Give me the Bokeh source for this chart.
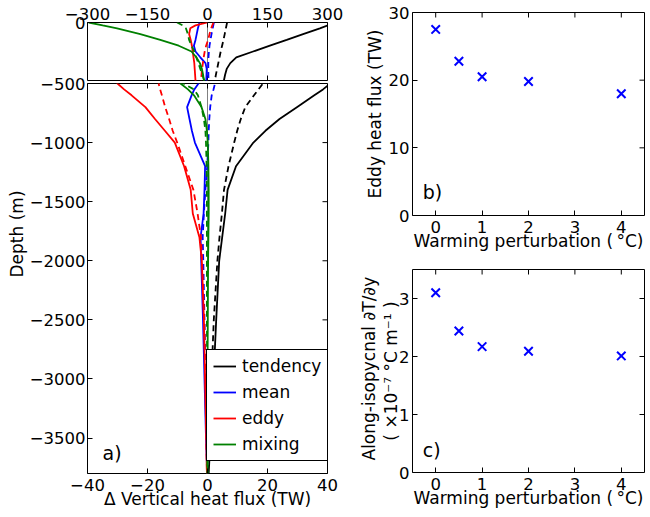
from math import pi
from bokeh.plotting import figure
from bokeh.models import (Range1d, FixedTicker, Span, Legend, LegendItem,
                          Label, Title, CustomJSTickFormatter)
from bokeh.layouts import row, column
from bokeh.embed import file_html
from bokeh.resources import INLINE

# ---------------- data ----------------
depth = [0, 25, 50, 100, 150, 200, 250, 300, 350, 400, 450, 500, 550, 600, 700,
         800, 900, 1000, 1200, 1400, 1600, 1800, 2000, 2500, 3000, 3500, 3800]

tendency_solid = [320, 301, 281, 239, 198, 156, 114, 72, 57, 48, 44, 41, 38.5, 35.6, 29.8,
                  24.0, 19.3, 15.3, 9.5, 6.7, 5.9, 4.9, 3.9, 2.9, 2.0, 1.0, 0.4]
tendency_dash = [49, 47.5, 46, 43, 40, 36.5, 33, 30, 27, 24, 21, 18.5, 17, 15.5, 12.6,
                 11.1, 9.9, 8.9, 7.0, 5.5, 4.8, 4.0, 3.3, 2.1, 1.3, 0.5, 0.1]
mean_solid = [-20, -22, -24, -27, -30, -34, -30, -18, -5, -2, -2.5, -3, -4.4, -5.3, -6.8,
              -6.0, -5.2, -4.2, -0.8, -1.0, -1.3, -2.3, -2.1, -1.5, -1.0, -0.5, -0.1]
mean_dash = [16, 14.5, 13, 10, 7.5, 5, 3.5, 2.5, 2, 2, 2.2, 2.5, 2.0, 1.4, 0.9,
             0.6, 0.4, 0.3, -0.1, -0.7, -1.2, -1.6, -1.4, -1.0, -0.6, -0.3, -0.1]
eddy_solid = [0, -30, -43, -46, -42, -39, -37, -35, -33, -32, -31, -30, -27.8, -25.3, -20.7,
              -17.5, -14.2, -10.9, -7.8, -5.6, -4.9, -2.7, -1.9, -1.2, -0.8, -0.4, -0.2]
eddy_dash = [15, 12, 9, 5, 1.5, -3.5, -7, -9.5, -11.5, -13.5, -15, -16.3, -15.8, -15.2, -14.1,
             -12.8, -11.6, -10.1, -7.4, -4.7, -3.3, -2.2, -1.8, -1.1, -0.7, -0.4, -0.2]
mixing_solid = [-297, -262, -226, -168, -118, -72, -40, -28, -19, -14, -11, -9, -6.5, -4.5, -2.0,
                -0.7, -0.2, 0.1, 0.3, 0.4, 0.4, 0.3, 0.2, 0.1, 0.0, 0.0, 0.0]
mixing_dash = [-76, -62, -54, -49, -46, -40, -33, -28, -23, -18, -13, -8, -4.5, -3.2, -2.0,
               -1.2, -0.7, -0.5, -0.3, -0.2, -0.2, -0.2, -0.2, -0.2, -0.1, -0.1, 0.0]

warming = [0, 0.5, 1, 2, 4]
eddy_heat_flux = [27.5, 22.8, 20.5, 19.8, 18.0]
isopycnal_grad = [3.10, 2.44, 2.17, 2.09, 2.01]

top_x_ticks = [-300, -150, 0, 150, 300]
top_y_ticks = [0]
top_y_marks = [-500, 0]
bot_x_ticks = [-40, -20, 0, 20, 40]
bot_y_ticks = [-3500, -3000, -2500, -2000, -1500, -1000, -500]
warm_ticks = [0, 1, 2, 3, 4]
flux_ticks = [0, 10, 20, 30]
grad_ticks = [0, 1, 2, 3]

series = [
    ("tendency", "black", tendency_solid, tendency_dash),
    ("mean", "blue", mean_solid, mean_dash),
    ("eddy", "red", eddy_solid, eddy_dash),
    ("mixing", "green", mixing_solid, mixing_dash),
]

# ---------------- styling helpers ----------------
FONT = "DejaVu Sans"
TICK_FS = "16.5px"
LAB_FS = "17px"
TICK_LEN = 5


def minus_fmt():
    return CustomJSTickFormatter(
        code="return (tick < 0 ? '\\u2212' : '') + Math.abs(tick).toString();")


def style_axis(ax, ticks, standoff=3):
    ax.ticker = FixedTicker(ticks=ticks)
    ax.formatter = minus_fmt()
    ax.major_tick_in = TICK_LEN
    ax.major_tick_out = 0
    ax.minor_tick_line_color = None
    ax.major_tick_line_color = "black"
    ax.major_tick_line_width = 1
    ax.axis_line_color = None
    ax.major_label_text_font = FONT
    ax.major_label_text_color = "black"
    ax.major_label_text_font_size = TICK_FS
    ax.major_label_standoff = standoff
    ax.axis_label_text_font = FONT
    ax.axis_label_text_font_size = LAB_FS
    ax.axis_label_text_font_style = "normal"
    ax.axis_label_text_color = "black"


def mirror_ticks(p, xticks, yticks, x_edge, y_edge):
    """Inward tick marks on the frame sides that carry no labels."""
    xr, yr = p.x_range, p.y_range
    if x_edge == "top":
        p.ray(x=xticks, y=[yr.end] * len(xticks), length=TICK_LEN, length_units="screen",
              angle=-pi / 2, line_color="black", line_width=1)
    else:
        p.ray(x=xticks, y=[yr.start] * len(xticks), length=TICK_LEN, length_units="screen",
              angle=pi / 2, line_color="black", line_width=1)
    if y_edge == "right":
        p.ray(x=[xr.end] * len(yticks), y=yticks, length=TICK_LEN, length_units="screen",
              angle=pi, line_color="black", line_width=1)


def make_fig(width, height, xr, yr, left, right, top, bottom, x_loc="below"):
    p = figure(width=width, height=height, x_range=Range1d(*xr), y_range=Range1d(*yr),
               output_backend="svg", toolbar_location=None, x_axis_location=x_loc,
               min_border_left=left, min_border_right=right,
               min_border_top=top, min_border_bottom=bottom, title=None)
    p.outline_line_color = "black"
    p.outline_line_width = 1
    p.outline_line_alpha = 1
    p.xgrid.visible = False
    p.ygrid.visible = False
    p.background_fill_color = "white"
    p.border_fill_color = "white"
    return p


yneg = [-d for d in depth]

# ---------------- panel a (top, 0..500 m) ----------------
a1 = make_fig(348, 81, (-300, 300), (-500, 0), 87, 21, 22, 1, x_loc="above")
style_axis(a1.xaxis[0], top_x_ticks, standoff=3)
style_axis(a1.yaxis[0], top_y_ticks, standoff=2)
a1.add_layout(Span(location=0, dimension="height", line_color="#808080",
                   line_width=1, level="underlay"))
mirror_ticks(a1, top_x_ticks, top_y_marks, "bottom", "right")

# ---------------- panel a (bottom, 500..3800 m) ----------------
a2 = make_fig(348, 444, (-40, 40), (-3800, -500), 87, 21, 14, 40)
a2.styles = {"margin-top": "-12px"}
a2.border_fill_alpha = 0
style_axis(a2.xaxis[0], bot_x_ticks, standoff=5)
a2.xaxis[0].axis_label = "\u0394 Vertical heat flux (TW)"
a2.xaxis[0].axis_label_standoff = -5
style_axis(a2.yaxis[0], bot_y_ticks, standoff=2)
a2.add_layout(Span(location=0, dimension="height", line_color="#808080",
                   line_width=1, level="underlay"))
mirror_ticks(a2, bot_x_ticks, bot_y_ticks, "top", "right")
a2.add_layout(Title(text="Depth (m)", align="left", offset=196, standoff=0,
                    text_font=FONT, text_font_size=LAB_FS, text_font_style="normal",
                    text_color="black"), "left")

items = []
for name, color, solid, dash in series:
    for p in (a1, a2):
        rs = p.line(solid, yneg, line_color=color, line_width=1.8)
        p.line(dash, yneg, line_color=color, line_width=1.8, line_dash="6 4")
    items.append(LegendItem(label=name, renderers=[rs]))

legend = Legend(items=items, location=(119, 12), label_text_font=FONT,
                label_text_font_size=LAB_FS, label_text_color="black",
                glyph_width=23, glyph_height=20,
                label_height=20, label_standoff=6, spacing=6, padding=6, margin=0,
                border_line_color="black", border_line_width=1, border_line_alpha=1,
                background_fill_color="white", background_fill_alpha=1)
a2.add_layout(legend)
a2.add_layout(Label(x=-35, y=-3630, text="a)", text_font=FONT, text_font_size="19px",
                    text_baseline="alphabetic", text_color="black"))

# ---------------- panel b ----------------
b = make_fig(302, 253, (-0.5, 4.5), (0, 30), 64, 6, 12, 38)
style_axis(b.xaxis[0], warm_ticks, standoff=5)
b.xaxis[0].axis_label = "Warming perturbation (\u2009\u00b0C)"
b.xaxis[0].axis_label_standoff = -5
style_axis(b.yaxis[0], flux_ticks, standoff=3)
b.yaxis[0].axis_label = "Eddy heat flux (TW)"
b.yaxis[0].axis_label_standoff = 1
mirror_ticks(b, warm_ticks, flux_ticks, "top", "right")
b.scatter(warming, eddy_heat_flux, marker="x", size=12, line_color="blue", line_width=2)
b.add_layout(Label(x=-0.28, y=3.4, text="b)", text_font=FONT, text_font_size="19px",
                   text_baseline="alphabetic", text_color="black"))

# ---------------- panel c ----------------
c = make_fig(302, 257, (-0.5, 4.5), (0, 3.5), 64, 6, 16, 38)
style_axis(c.xaxis[0], warm_ticks, standoff=5)
c.xaxis[0].axis_label = "Warming perturbation (\u2009\u00b0C)"
c.xaxis[0].axis_label_standoff = -5
style_axis(c.yaxis[0], grad_ticks, standoff=3)
c.yaxis[0].axis_label = "( \u00d710\u207b\u2077 \u00b0C m\u207b\u00b9 )"
c.yaxis[0].axis_label_standoff = -5
mirror_ticks(c, warm_ticks, grad_ticks, "top", "right")
c.add_layout(Title(text="Along-isopycnal \u2202T/\u2202y", align="left", offset=12,
                   standoff=0, text_font=FONT, text_font_size=LAB_FS,
                   text_font_style="normal", text_color="black"), "left")
c.scatter(warming, isopycnal_grad, marker="x", size=12, line_color="blue", line_width=2)
c.add_layout(Label(x=-0.28, y=0.38, text="c)", text_font=FONT, text_font_size="19px",
                   text_baseline="alphabetic", text_color="black"))

layout = row(column(a1, a2), column(b, c))
open("out.html", "w").write(file_html(layout, INLINE))
